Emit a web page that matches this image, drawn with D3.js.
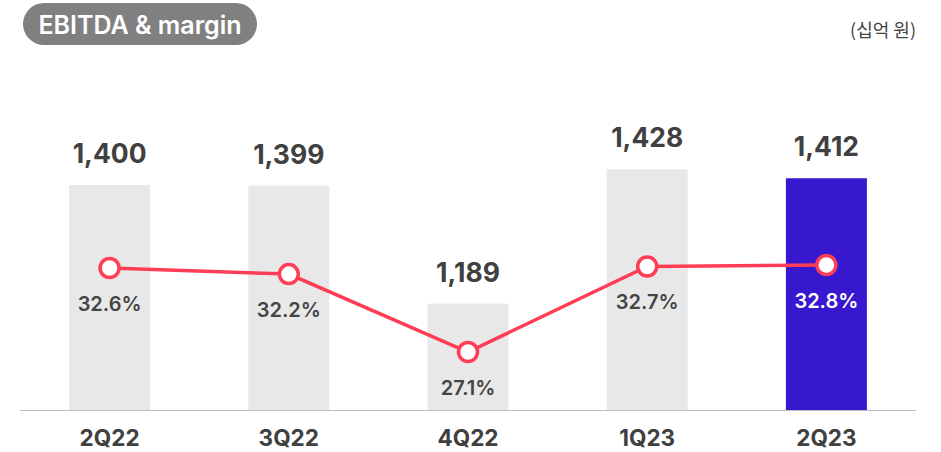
<!DOCTYPE html>
<html>
<head>
<meta charset="utf-8">
<script src="https://cdn.jsdelivr.net/npm/d3@7"></script>
<style>
  body { margin: 0; background: #fff; }
  text { font-family: Inter, "Noto Sans CJK KR", sans-serif; }
  text.kr { font-family: "Noto Sans CJK KR", sans-serif; }
</style>
</head>
<body>
<div id="root"></div>
<script>
const WIDTH = 941;
const HEIGHT = 452;

const quarters = ["2Q22", "3Q22", "4Q22", "1Q23", "2Q23"];
const ebitda = [1400, 1399, 1189, 1428, 1412];
const margin = [32.6, 32.2, 27.1, 32.7, 32.8];
const ebitdaLabels = ["1,400", "1,399", "1,189", "1,428", "1,412"];
const marginLabels = ["32.6%", "32.2%", "27.1%", "32.7%", "32.8%"];

const BASE_Y = 410;

const xScale = d3.scaleBand()
    .domain(quarters)
    .range([20, 916])
    .paddingInner(0.548)
    .paddingOuter(0.274);

const yScale = d3.scaleLinear()
    .domain([1000, 1400])
    .range([BASE_Y, 185]);

const mScale = d3.scaleLinear()
    .domain([27.1, 32.6])
    .range([352, 268]);

const cx = d => xScale(d) + xScale.bandwidth() / 2;

const svg = d3.select("#root")
    .append("svg")
    .attr("width", WIDTH)
    .attr("height", HEIGHT);

// title pill
svg.append("rect")
    .attr("x", 23).attr("y", 3)
    .attr("width", 234).attr("height", 42)
    .attr("rx", 21)
    .attr("fill", "#808080");
svg.append("text")
    .attr("x", 140).attr("y", 34)
    .attr("text-anchor", "middle")
    .attr("fill", "#fff")
    .attr("font-size", 25)
    .attr("font-weight", 600)
    .text("EBITDA & margin");

svg.append("text")
    .attr("class", "kr")
    .attr("x", 916).attr("y", 37)
    .attr("text-anchor", "end")
    .attr("fill", "#444")
    .attr("font-size", 18)
    .text("(십억 원)");

// bars
svg.selectAll(".bar")
    .data(quarters)
    .enter()
    .append("rect")
    .attr("class", "bar")
    .attr("x", d => xScale(d))
    .attr("width", xScale.bandwidth())
    .attr("y", (d, i) => yScale(ebitda[i]))
    .attr("height", (d, i) => BASE_Y - yScale(ebitda[i]))
    .attr("fill", (d, i) => i === quarters.length - 1 ? "#3718cf" : "#e8e8e8");

svg.selectAll(".val")
    .data(quarters)
    .enter()
    .append("text")
    .attr("class", "val")
    .attr("x", cx)
    .attr("y", (d, i) => yScale(ebitda[i]) - 22)
    .attr("text-anchor", "middle")
    .attr("fill", "#404040")
    .attr("font-size", 26.5)
    .attr("font-weight", 700)
    .text((d, i) => ebitdaLabels[i]);

// baseline
svg.append("line")
    .attr("x1", 20).attr("x2", 916)
    .attr("y1", BASE_Y + 0.5).attr("y2", BASE_Y + 0.5)
    .attr("stroke", "#bdbdbd")
    .attr("stroke-width", 1);

// category labels
svg.selectAll(".cat")
    .data(quarters)
    .enter()
    .append("text")
    .attr("class", "cat")
    .attr("x", cx)
    .attr("y", 446)
    .attr("text-anchor", "middle")
    .attr("fill", "#404040")
    .attr("font-size", 22.5)
    .attr("font-weight", 700)
    .text(d => d);

// margin line
const line = d3.line()
    .x((d, i) => cx(quarters[i]))
    .y(d => mScale(d));

svg.append("path")
    .datum(margin)
    .attr("d", line)
    .attr("fill", "none")
    .attr("stroke", "#ff3d55")
    .attr("stroke-width", 3.5);

svg.selectAll(".pt")
    .data(margin)
    .enter()
    .append("circle")
    .attr("class", "pt")
    .attr("cx", (d, i) => cx(quarters[i]))
    .attr("cy", d => mScale(d))
    .attr("r", 9.5)
    .attr("fill", "#fff")
    .attr("stroke", "#ff3d55")
    .attr("stroke-width", 3.5);

svg.selectAll(".pct")
    .data(margin)
    .enter()
    .append("text")
    .attr("class", "pct")
    .attr("x", (d, i) => cx(quarters[i]))
    .attr("y", d => mScale(d) + 43)
    .attr("text-anchor", "middle")
    .attr("fill", (d, i) => i === margin.length - 1 ? "#fff" : "#444")
    .attr("font-size", 20)
    .attr("font-weight", 600)
    .text((d, i) => marginLabels[i]);
</script>
</body>
</html>
